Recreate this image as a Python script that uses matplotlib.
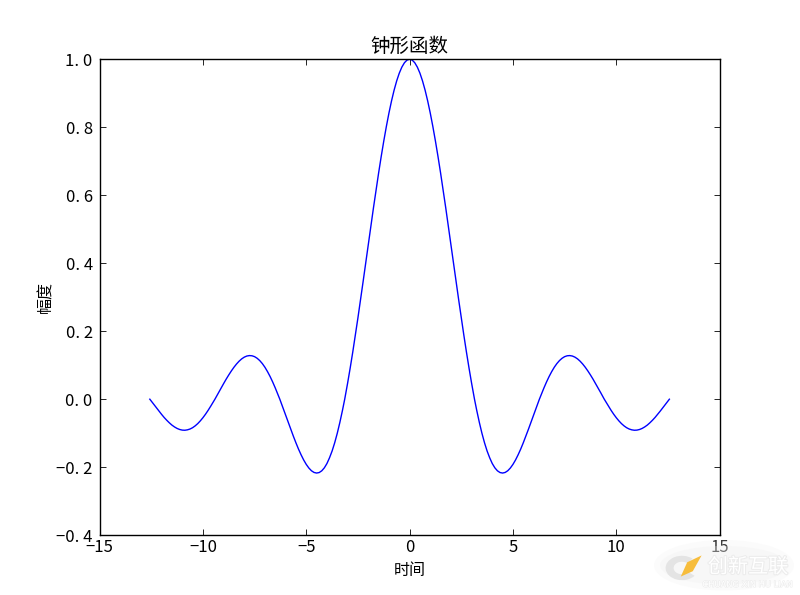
#!/usr/bin/env python3
import matplotlib

matplotlib.use("Agg")
import matplotlib.patheffects as pe
import matplotlib.pyplot as plt
from matplotlib.patches import Ellipse, Polygon, Wedge

# values (right half, the curve is mirrored)
time_pos = [0.0, 0.125, 0.25, 0.375, 0.5, 0.625, 0.75, 0.875, 1.0, 1.125, 1.25, 1.375,
            1.5, 1.625, 1.75, 1.875, 2.0, 2.125, 2.25, 2.375, 2.5, 2.625, 2.75, 2.875,
            3.0, 3.14, 3.25, 3.375, 3.5, 3.625, 3.75, 3.875, 4.0, 4.125, 4.25, 4.375,
            4.5, 4.625, 4.75, 4.875, 5.0, 5.125, 5.25, 5.375, 5.5, 5.625, 5.75, 5.875,
            6.0, 6.125, 6.28, 6.375, 6.5, 6.625, 6.75, 6.875, 7.0, 7.125, 7.25, 7.375,
            7.5, 7.625, 7.75, 7.875, 8.0, 8.125, 8.25, 8.375, 8.5, 8.625, 8.75, 8.875,
            9.0, 9.125, 9.25, 9.42, 9.625, 9.75, 9.875, 10.0, 10.125, 10.25, 10.375,
            10.5, 10.625, 10.75, 10.875, 11.0, 11.125, 11.25, 11.375, 11.5, 11.625,
            11.75, 11.875, 12.0, 12.125, 12.25, 12.375, 12.57]
amp_pos = [1.0, 0.9974, 0.9896, 0.9767, 0.9589, 0.9362, 0.9089, 0.8772, 0.8415, 0.802, 0.7592, 0.7134,
           0.665, 0.6144, 0.5623, 0.5089, 0.4546, 0.4002, 0.3458, 0.2922, 0.2394, 0.1882, 0.1388, 0.0917,
           0.047, 0.0, -0.0333, -0.0684, -0.1002, -0.1282, -0.1524, -0.1723, -0.1892, -0.2018, -0.2106, -0.2157,
           -0.2172, -0.2154, -0.2104, -0.2024, -0.1918, -0.1788, -0.1636, -0.1468, -0.1283, -0.1087, -0.0884, -0.0676,
           -0.0466, -0.0257, 0.0, 0.0144, 0.0331, 0.0506, 0.0667, 0.0811, 0.0939, 0.1047, 0.1135, 0.1203,
           0.1251, 0.1277, 0.1283, 0.127, 0.1237, 0.1186, 0.1118, 0.1035, 0.0939, 0.0831, 0.0714, 0.059,
           0.0458, 0.0323, 0.0188, 0.0, -0.0207, -0.0328, -0.0441, -0.0544, -0.0636, -0.0717, -0.0784,
           -0.0838, -0.0877, -0.0901, -0.0913, -0.0909, -0.0891, -0.086, -0.0816, -0.0762, -0.0695,
           -0.062, -0.0538, -0.0447, -0.0352, -0.0254, -0.0154, 0.0]

time = [-t for t in reversed(time_pos[1:])] + time_pos
amp = list(reversed(amp_pos[1:])) + amp_pos

x_ticks = [-15, -10, -5, 0, 5, 10, 15]
y_ticks = [-0.4, -0.2, 0.0, 0.2, 0.4, 0.6, 0.8, 1.0]
y_labels = ["−0. 4", "−0. 2", "0. 0", "0. 2", "0. 4", "0. 6", "0. 8", "1. 0"]
x_labels = ["−15", "−10", "−5", "0", "5", "10", "15"]

cjk = ["Noto Sans CJK SC", "DejaVu Sans"]
plt.rcParams["font.family"] = cjk

fig = plt.figure(figsize=(8, 5.95), dpi=100)
ax = fig.add_axes([0.1245, 0.1005, 0.775, 0.8])

ax.plot(time, amp, color="#0000ff", lw=1.0)

ax.set_xlim(-15, 15)
ax.set_ylim(-0.4, 1.0)
ax.set_xticks(x_ticks, labels=x_labels)
ax.set_yticks(y_ticks, labels=y_labels)
ax.tick_params(direction="in", top=True, right=True, length=4, width=0.6,
               labelsize=12, pad=5, color="black")
ax.tick_params(axis="x", pad=3)
for spine in ax.spines.values():
    spine.set_linewidth(1.0)

ax.set_title("钟形函数", fontsize=14, pad=5)
ax.set_xlabel("时间", fontsize=11.5, labelpad=4)
ax.set_ylabel("幅度", fontsize=11.5, labelpad=1.5)

# watermark in the lower right corner
for w, h, a in [(0.175, 0.085, 0.25), (0.16, 0.065, 0.3)]:
    fig.add_artist(Ellipse((0.905, 0.05), w, h, transform=fig.transFigure,
                           facecolor="#f0f0f0", edgecolor="none", alpha=a, zorder=5))
fig.add_artist(Wedge((0.8525, 0.0454), 0.0205, 50, 320, width=0.010, transform=fig.transFigure,
                     facecolor="#e4e4e4", edgecolor="none", zorder=6))
fig.add_artist(Polygon([(0.851, 0.031), (0.859, 0.055), (0.877, 0.0665), (0.866, 0.040), (0.851, 0.031)],
                       transform=fig.transFigure, facecolor="#f7bd3c", edgecolor="none", zorder=7))
fig.text(0.935, 0.0375, "创新互联", fontsize=14.5, color="white", ha="center",
         va="baseline", path_effects=[pe.withStroke(linewidth=1.5, foreground="#ececec")], zorder=8)
fig.text(0.935, 0.0135, "CHUANG XIN HU LIAN", family="DejaVu Sans", fontsize=6, color="white", ha="center",
         va="baseline", path_effects=[pe.withStroke(linewidth=0.8, foreground="#ececec")], zorder=8)

fig.savefig("out.png", dpi=100)
